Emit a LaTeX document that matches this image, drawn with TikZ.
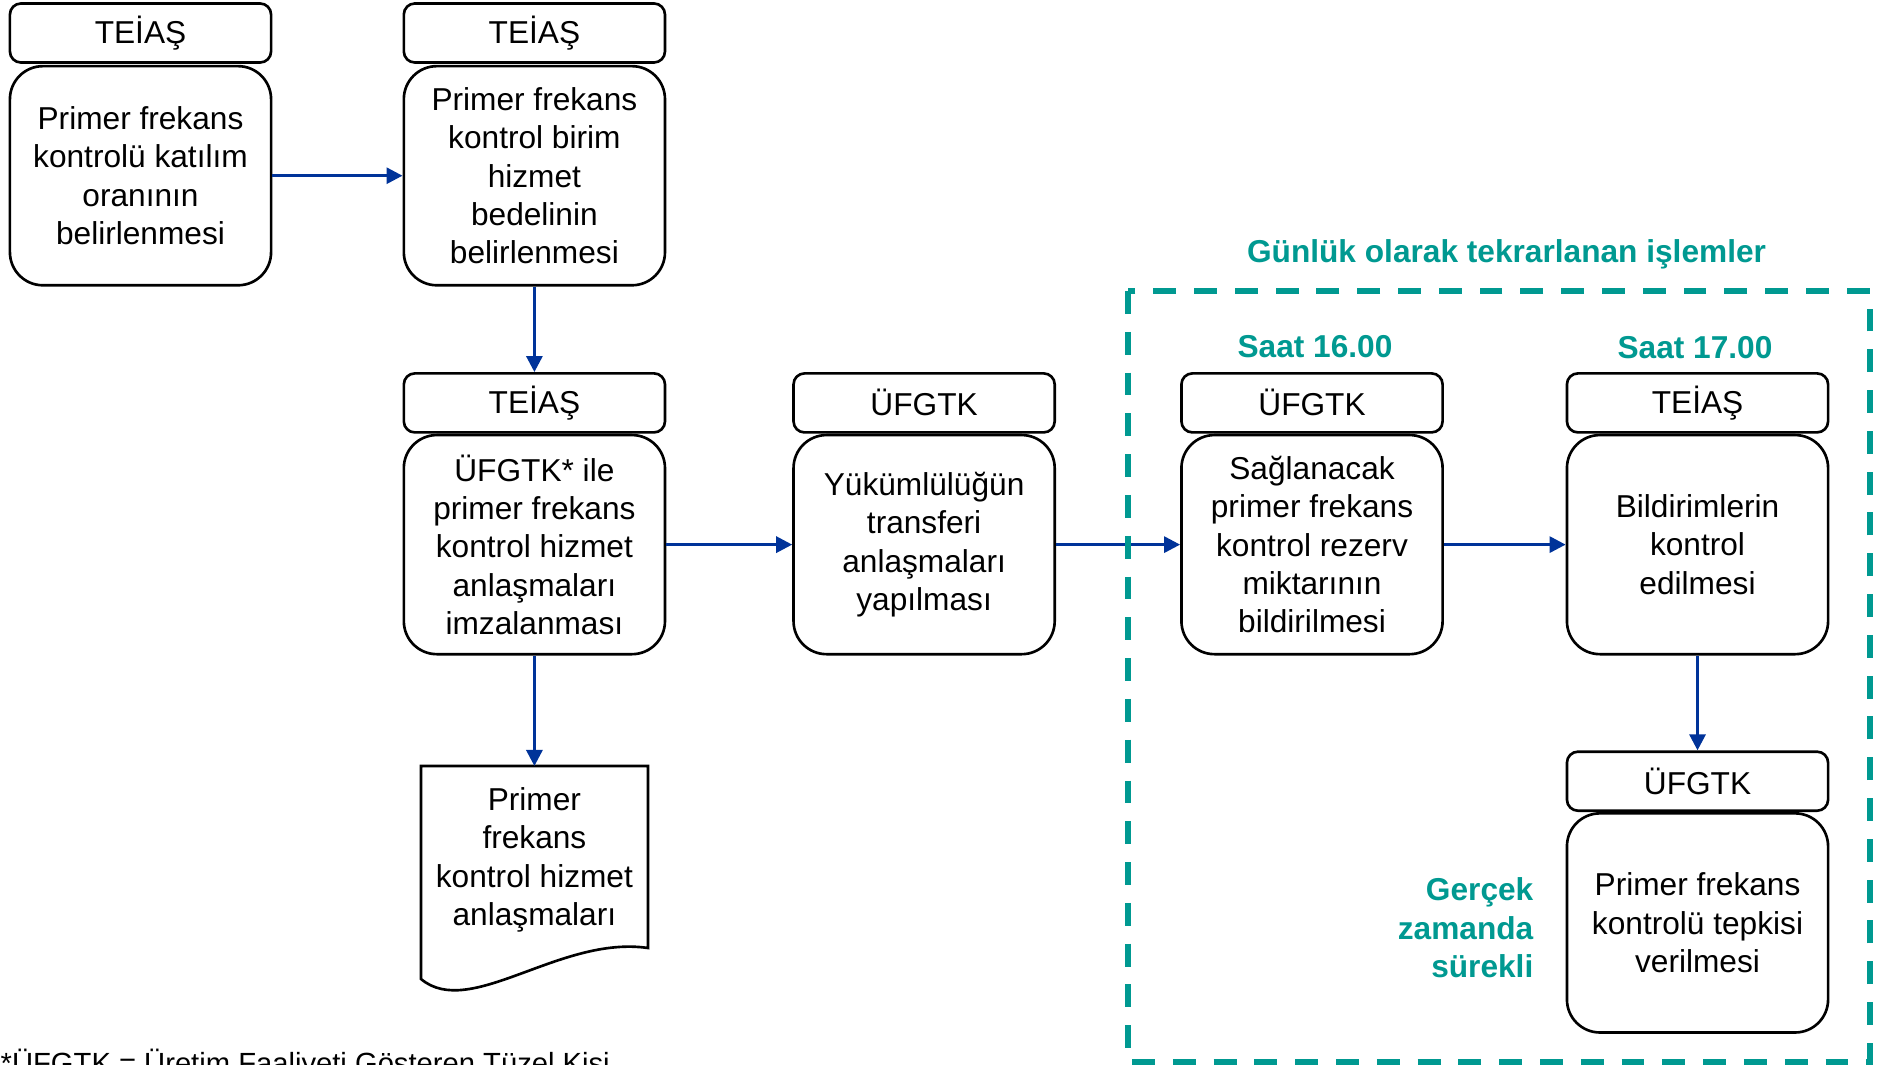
\documentclass[tikz,border=0pt]{standalone}
\usepackage{fontspec}
\setmainfont{Liberation Sans}
\usetikzlibrary{positioning,arrows.meta}
\definecolor{dailyteal}{RGB}{0,153,145}
\definecolor{flowblue}{RGB}{0,51,153}
\def\boxfont{\fontsize{9}{10.9}\selectfont}
\tikzstyle{header}=[draw,rounded corners=0.11cm,line width=0.75pt,minimum width=2.61cm,minimum height=0.59cm,inner sep=0pt,font=\boxfont]
\tikzstyle{task}=[draw,rounded corners=0.33cm,line width=0.75pt,minimum width=2.61cm,minimum height=2.19cm,inner sep=0pt,align=center,font=\boxfont]
\tikzstyle{flow}=[draw=flowblue,line width=0.85pt,-{Triangle[length=0.16cm,width=0.16cm]}]
\tikzstyle{note}=[text=dailyteal,inner sep=0pt,font=\bfseries\boxfont]
\tikzstyle{daily}=[draw=dailyteal,line width=1.5pt,dash pattern=on 6.5pt off 5.1pt]

\begin{document}
\begin{tikzpicture}[x=0.01cm,y=-0.01cm]
       \useasboundingbox (0,0) rectangle (1883,1064);
       \foreach \pos/\name/\who in {{(140.5,33)/h1/TEİAŞ}, {(534.4,33)/h2/TEİAŞ}, {(534.4,402.9)/h3/TEİAŞ}, {(924.1,402.9)/h4/ÜFGTK}, {(1312,402.9)/h5/ÜFGTK}, {(1697.5,402.9)/h6/TEİAŞ}, {(1697.5,781.2)/h7/ÜFGTK}} {
           \node[header] (\name) at \pos {\who};
       }
       \node[task,below=0.01cm of h1] (m1) {Primer frekans\\kontrolü katılım\\oranının\\belirlenmesi};
       \node[task,below=0.01cm of h2] (m2) {Primer frekans\\kontrol birim\\hizmet\\bedelinin\\belirlenmesi};
       \node[task,below=0cm of h3] (m3) {ÜFGTK* ile\\primer frekans\\kontrol hizmet\\anlaşmaları\\imzalanması};
       \node[task,below=0cm of h4] (m4) {Yükümlülüğün\\transferi\\anlaşmaları\\yapılması};
       \node[task,below=0cm of h5] (m5) {Sağlanacak\\primer frekans\\kontrol rezerv\\miktarının\\bildirilmesi};
       \node[task,below=0cm of h6] (m6) {Bildirimlerin\\kontrol\\edilmesi};
       \node[task,below=0cm of h7] (m7) {Primer frekans\\kontrolü tepkisi\\verilmesi};

       \draw[line width=0.75pt] (421,766) -- (648,766) -- (648,948) .. controls (560,935) and (470,1020) .. (421,979) -- cycle;
       \coordinate (doctop) at (534.4,766);
       \node[align=center,font=\boxfont] (doc) at (534.4,860) {Primer\\frekans\\kontrol hizmet\\anlaşmaları};

       \draw[flow] (m1) -- (m2);
       \draw[flow] (m2) -- (h3);
       \draw[flow] (m3) -- (doctop);
       \draw[flow] (m3) -- (m4);
       \draw[flow] (m4) -- (m5);
       \draw[flow] (m5) -- (m6);
       \draw[flow] (m6) -- (h7);

       \draw[daily] (1128,291) rectangle (1870,1062);
       \node[note] (daily) at (1506.5,254.6) {Günlük olarak tekrarlanan işlemler};
       \node[note] (t16) at (1315,347) {Saat 16.00};
       \node[note] (t17) at (1695,348) {Saat 17.00};
       \node[note,align=right,anchor=east] (live) at (1534,928) {Gerçek\\zamanda\\sürekli};

       \node[anchor=base west,inner sep=0pt,font=\fontsize{8.3}{10}\selectfont] (fn) at (0,1073) {*ÜFGTK = Üretim Faaliyeti Gösteren Tüzel Kişi};
\end{tikzpicture}
\end{document}
